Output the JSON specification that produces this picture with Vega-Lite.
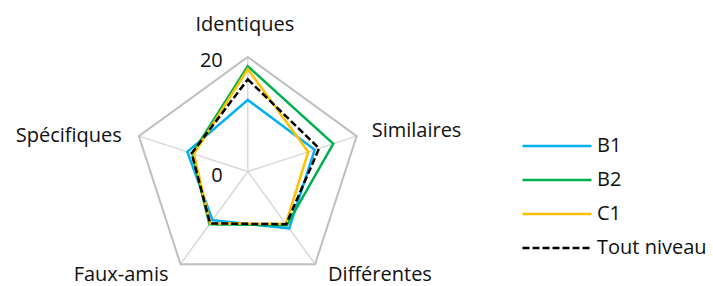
{
  "$schema": "https://vega.github.io/schema/vega-lite/v6.json",
  "width": 713,
  "height": 286,
  "padding": 0,
  "autosize": {"type": "none"},
  "background": "white",
  "config": {"view": {"stroke": null}, "font": "Open Sans"},
  "datasets": {
    "scores": [
      {"serie": "B1", "axe": "Identiques", "k": 0, "v": 12.5},
      {"serie": "B1", "axe": "Similaires", "k": 1, "v": 12.3},
      {"serie": "B1", "axe": "Différentes", "k": 2, "v": 12.3},
      {"serie": "B1", "axe": "Faux-amis", "k": 3, "v": 10.5},
      {"serie": "B1", "axe": "Spécifiques", "k": 4, "v": 11.1},
      {"serie": "B2", "axe": "Identiques", "k": 0, "v": 18.4},
      {"serie": "B2", "axe": "Similaires", "k": 1, "v": 15.7},
      {"serie": "B2", "axe": "Différentes", "k": 2, "v": 11.6},
      {"serie": "B2", "axe": "Faux-amis", "k": 3, "v": 11.4},
      {"serie": "B2", "axe": "Spécifiques", "k": 4, "v": 10.2},
      {"serie": "C1", "axe": "Identiques", "k": 0, "v": 17.9},
      {"serie": "C1", "axe": "Similaires", "k": 1, "v": 11.1},
      {"serie": "C1", "axe": "Différentes", "k": 2, "v": 11.3},
      {"serie": "C1", "axe": "Faux-amis", "k": 3, "v": 11.2},
      {"serie": "C1", "axe": "Spécifiques", "k": 4, "v": 9.9},
      {"serie": "Tout niveau", "axe": "Identiques", "k": 0, "v": 16.1},
      {"serie": "Tout niveau", "axe": "Similaires", "k": 1, "v": 13.1},
      {"serie": "Tout niveau", "axe": "Différentes", "k": 2, "v": 11.4},
      {"serie": "Tout niveau", "axe": "Faux-amis", "k": 3, "v": 11.2},
      {"serie": "Tout niveau", "axe": "Spécifiques", "k": 4, "v": 10.3}
    ],
    "axes": [
      {"axe": "Identiques", "k": 0},
      {"axe": "Similaires", "k": 1},
      {"axe": "Différentes", "k": 2},
      {"axe": "Faux-amis", "k": 3},
      {"axe": "Spécifiques", "k": 4}
    ],
    "ticks": [{"t": 20}, {"t": 0}]
  },
  "encoding": {
    "x": {"type": "quantitative", "scale": {"domain": [-43.28, 81.26], "nice": false, "zero": false}, "axis": null},
    "y": {"type": "quantitative", "scale": {"domain": [-20, 29.96], "nice": false, "zero": false}, "axis": null}
  },
  "layer": [
    {
      "data": {"name": "axes"},
      "transform": [
        {"calculate": "datum.k * 2 * PI / 5", "as": "a"},
        {"calculate": "20 * sin(datum.a)", "as": "ex"},
        {"calculate": "20 * cos(datum.a)", "as": "ey"}
      ],
      "mark": {"type": "rule", "color": "#d9d9d9", "strokeWidth": 1.5},
      "encoding": {
        "x": {"field": "ex", "type": "quantitative"},
        "y": {"field": "ey", "type": "quantitative"},
        "x2": {"datum": 0},
        "y2": {"datum": 0}
      }
    },
    {
      "data": {"name": "axes"},
      "transform": [
        {"calculate": "datum.k * 2 * PI / 5", "as": "a"},
        {"calculate": "20 * sin(datum.a)", "as": "ex"},
        {"calculate": "20 * cos(datum.a)", "as": "ey"}
      ],
      "mark": {"type": "line", "color": "#bfbfbf", "strokeWidth": 2, "interpolate": "linear-closed"},
      "encoding": {
        "x": {"field": "ex", "type": "quantitative"},
        "y": {"field": "ey", "type": "quantitative"},
        "order": {"field": "k", "type": "quantitative"}
      }
    },
    {
      "data": {"name": "scores"},
      "transform": [
        {"calculate": "datum.k * 2 * PI / 5", "as": "a"},
        {"calculate": "datum.v * sin(datum.a)", "as": "px"},
        {"calculate": "datum.v * cos(datum.a)", "as": "py"}
      ],
      "mark": {"type": "line", "strokeWidth": 2.5, "interpolate": "linear-closed"},
      "encoding": {
        "x": {"field": "px", "type": "quantitative"},
        "y": {"field": "py", "type": "quantitative"},
        "order": {"field": "k", "type": "quantitative"},
        "color": {
          "field": "serie",
          "type": "nominal",
          "scale": {"domain": ["B1", "B2", "C1", "Tout niveau"], "range": ["#00b0f0", "#00b050", "#ffc000", "#000000"]},
          "legend": {
            "title": null, "orient": "none", "legendX": 521, "legendY": 132, "clipHeight": 28,
            "symbolType": "stroke", "symbolSize": 4761, "symbolStrokeWidth": 2.5,
            "labelFontSize": 20, "labelColor": "#111", "labelOffset": 4, "padding": 0, "rowPadding": 6
          }
        },
        "strokeDash": {
          "field": "serie",
          "type": "nominal",
          "scale": {"domain": ["B1", "B2", "C1", "Tout niveau"], "range": [[1, 0], [1, 0], [1, 0], [7, 3]]},
          "legend": {
            "title": null, "orient": "none", "legendX": 521, "legendY": 132, "clipHeight": 28,
            "symbolType": "stroke", "symbolSize": 4761, "symbolStrokeWidth": 2.5,
            "labelFontSize": 20, "labelColor": "#111", "labelOffset": 4, "padding": 0, "rowPadding": 6
          }
        }
      }
    },
    {
      "data": {"name": "axes"},
      "transform": [
        {"filter": "datum.axe == 'Identiques'"},
        {"calculate": "datum.k * 2 * PI / 5", "as": "a"},
        {"calculate": "20 * sin(datum.a)", "as": "ex"},
        {"calculate": "20 * cos(datum.a)", "as": "ey"}
      ],
      "mark": {"type": "text", "fontSize": 20, "color": "#111", "align": "center", "baseline": "alphabetic", "dx": -3, "dy": -26},
      "encoding": {"x": {"field": "ex", "type": "quantitative"}, "y": {"field": "ey", "type": "quantitative"}, "text": {"field": "axe"}}
    },
    {
      "data": {"name": "axes"},
      "transform": [
        {"filter": "datum.axe == 'Similaires'"},
        {"calculate": "datum.k * 2 * PI / 5", "as": "a"},
        {"calculate": "20 * sin(datum.a)", "as": "ex"},
        {"calculate": "20 * cos(datum.a)", "as": "ey"}
      ],
      "mark": {"type": "text", "fontSize": 20, "color": "#111", "align": "left", "baseline": "alphabetic", "dx": 15, "dy": 1},
      "encoding": {"x": {"field": "ex", "type": "quantitative"}, "y": {"field": "ey", "type": "quantitative"}, "text": {"field": "axe"}}
    },
    {
      "data": {"name": "axes"},
      "transform": [
        {"filter": "datum.axe == 'Différentes'"},
        {"calculate": "datum.k * 2 * PI / 5", "as": "a"},
        {"calculate": "20 * sin(datum.a)", "as": "ex"},
        {"calculate": "20 * cos(datum.a)", "as": "ey"}
      ],
      "mark": {"type": "text", "fontSize": 20, "color": "#111", "align": "left", "baseline": "alphabetic", "dx": 13, "dy": 17},
      "encoding": {"x": {"field": "ex", "type": "quantitative"}, "y": {"field": "ey", "type": "quantitative"}, "text": {"field": "axe"}}
    },
    {
      "data": {"name": "axes"},
      "transform": [
        {"filter": "datum.axe == 'Faux-amis'"},
        {"calculate": "datum.k * 2 * PI / 5", "as": "a"},
        {"calculate": "20 * sin(datum.a)", "as": "ex"},
        {"calculate": "20 * cos(datum.a)", "as": "ey"}
      ],
      "mark": {"type": "text", "fontSize": 20, "color": "#111", "align": "right", "baseline": "alphabetic", "dx": -12, "dy": 17},
      "encoding": {"x": {"field": "ex", "type": "quantitative"}, "y": {"field": "ey", "type": "quantitative"}, "text": {"field": "axe"}}
    },
    {
      "data": {"name": "axes"},
      "transform": [
        {"filter": "datum.axe == 'Spécifiques'"},
        {"calculate": "datum.k * 2 * PI / 5", "as": "a"},
        {"calculate": "20 * sin(datum.a)", "as": "ex"},
        {"calculate": "20 * cos(datum.a)", "as": "ey"}
      ],
      "mark": {"type": "text", "fontSize": 20, "color": "#111", "align": "right", "baseline": "alphabetic", "dx": -17, "dy": 6},
      "encoding": {"x": {"field": "ex", "type": "quantitative"}, "y": {"field": "ey", "type": "quantitative"}, "text": {"field": "axe"}}
    },
    {
      "data": {"name": "ticks"},
      "mark": {"type": "text", "fontSize": 20, "color": "#111", "align": "right", "baseline": "alphabetic", "dx": -25, "dy": 10},
      "encoding": {
        "x": {"datum": 0, "type": "quantitative"},
        "y": {"field": "t", "type": "quantitative"},
        "text": {"field": "t", "type": "quantitative"}
      }
    }
  ]
}
